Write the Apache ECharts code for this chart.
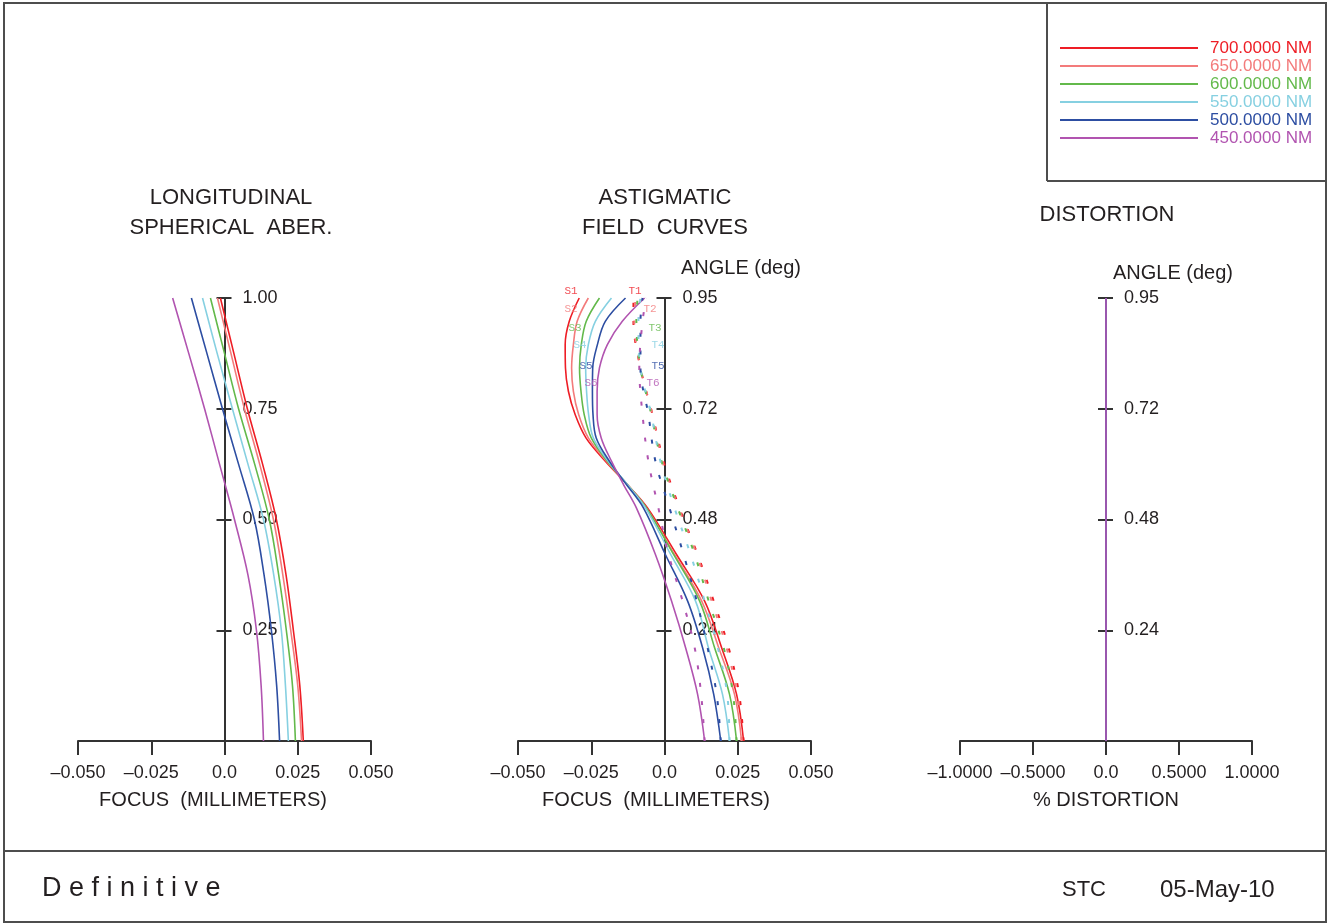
<!DOCTYPE html>
<html>
<head>
<meta charset="utf-8">
<title>Longitudinal / field curves / distortion</title>
<script src="https://cdn.jsdelivr.net/npm/echarts@6/dist/echarts.min.js"></script>
<style>
html, body { margin: 0; padding: 0; background: #fff; }
#main { width: 1328px; height: 924px; }
</style>
</head>
<body>
<div id="main"></div>
<script>
// wavelengths, legend order
var waveNames = ['700.0000 NM', '650.0000 NM', '600.0000 NM', '550.0000 NM', '500.0000 NM', '450.0000 NM'];
var waveColors = ['#ee1d25', '#f37b7b', '#63b94b', '#86d0e1', '#2d4ea2', '#b154b0'];

// longitudinal spherical aberration (focus mm) vs relative pupil
var pupil  = [0, 0.125, 0.25, 0.375, 0.5, 0.625, 0.75, 0.875, 1.0];
var lon700 = [0.0269, 0.0257, 0.0235, 0.0210, 0.0177, 0.0130, 0.0078, 0.0032, -0.0014];
var lon650 = [0.0263, 0.0250, 0.0226, 0.0199, 0.0167, 0.0120, 0.0068, 0.0022, -0.0024];
var lon600 = [0.0242, 0.0232, 0.0211, 0.0185, 0.0153, 0.0103, 0.0048, 0.0000, -0.0048];
var lon550 = [0.0218, 0.0208, 0.0194, 0.0168, 0.0133, 0.0080, 0.0027, -0.0025, -0.0075];
var lon500 = [0.0188, 0.0178, 0.0160, 0.0135, 0.0102, 0.0048, -0.0007, -0.0060, -0.0113];
var lon450 = [0.0133, 0.0125, 0.0109, 0.0080, 0.0034, -0.0017, -0.0068, -0.0122, -0.0177];

// astigmatic field curves (focus mm) vs field angle (deg)
// sagittal (solid)
var sagField = [0, 0.1, 0.2, 0.3, 0.4, 0.5, 0.55, 0.6, 0.65, 0.7, 0.75, 0.8, 0.85, 0.9, 0.95];
var sag700 = [0.0270, 0.0246, 0.0195, 0.0137, 0.0041, -0.0058, -0.0127, -0.0202, -0.0268, -0.0305, -0.0328, -0.0338, -0.0339, -0.0325, -0.0291];
var sag650 = [0.0263, 0.0239, 0.0185, 0.0127, 0.0034, -0.0062, -0.0127, -0.0198, -0.0260, -0.0293, -0.0311, -0.0317, -0.0311, -0.0298, -0.0260];
var sag600 = [0.0246, 0.0222, 0.0171, 0.0120, 0.0031, -0.0062, -0.0127, -0.0195, -0.0250, -0.0274, -0.0285, -0.0290, -0.0284, -0.0267, -0.0222];
var sag550 = [0.0222, 0.0198, 0.0150, 0.0106, 0.0021, -0.0065, -0.0127, -0.0192, -0.0243, -0.0259, -0.0266, -0.0269, -0.0260, -0.0236, -0.0181];
var sag500 = [0.0192, 0.0168, 0.0130, 0.0079, 0.0003, -0.0072, -0.0130, -0.0188, -0.0233, -0.0244, -0.0246, -0.0245, -0.0229, -0.0202, -0.0133];
var sag450 = [0.0137, 0.0113, 0.0072, 0.0024, -0.0031, -0.0096, -0.0140, -0.0181, -0.0216, -0.0230, -0.0230, -0.0222, -0.0195, -0.0144, -0.0068];
// tangential (dashed)
var tanField = [0, 0.1, 0.2, 0.3, 0.4, 0.5, 0.6, 0.7, 0.8, 0.9, 0.95];
var tan700 = [0.0270, 0.0255, 0.0219, 0.0168, 0.0113, 0.0051, -0.0003, -0.0041, -0.0082, -0.0106, -0.0106];
var tan650 = [0.0263, 0.0248, 0.0212, 0.0161, 0.0110, 0.0048, -0.0007, -0.0041, -0.0082, -0.0103, -0.0099];
var tan600 = [0.0246, 0.0234, 0.0202, 0.0151, 0.0103, 0.0045, -0.0010, -0.0045, -0.0082, -0.0096, -0.0092];
var tan550 = [0.0222, 0.0214, 0.0182, 0.0137, 0.0089, 0.0034, -0.0014, -0.0045, -0.0082, -0.0089, -0.0082];
var tan500 = [0.0192, 0.0178, 0.0147, 0.0110, 0.0065, 0.0017, -0.0031, -0.0055, -0.0082, -0.0082, -0.0075];
var tan450 = [0.0137, 0.0125, 0.0103, 0.0062, 0.0014, -0.0021, -0.0055, -0.0075, -0.0086, -0.0075, -0.0062];

// distortion (%) vs field angle, same for every wavelength
var distField = [0, 0.24, 0.48, 0.72, 0.95];
var distPct   = [0, 0, 0, 0, 0];

// tick labels
var focusTicks = ['\u20130.050', '\u20130.025', '0.0', '0.025', '0.050'];
var distTicks  = ['\u20131.0000', '\u20130.5000', '0.0', '0.5000', '1.0000'];
var pupilTicks = ['', '0.25', '0.50', '0.75', '1.00'];
var angleTicks = ['', '0.24', '0.48', '0.72', '0.95'];

var lonData = [lon700, lon650, lon600, lon550, lon500, lon450];
var sagData = [sag700, sag650, sag600, sag550, sag500, sag450];
var tanData = [tan700, tan650, tan600, tan550, tan500, tan450];

var FONT = '"Liberation Sans", Arial, sans-serif';
var INK = '#231f20';
var AXIS = '#333';

function pairs(xs, ys) {
  return xs.map(function (x, i) { return [x, ys[i]]; });
}

function curve(i, xs, ys, xIdx, yIdx, dashed) {
  return {
    name: waveNames[i],
    type: 'line',
    xAxisIndex: xIdx,
    yAxisIndex: yIdx,
    data: pairs(xs, ys),
    smooth: 0.35,
    symbol: 'none',
    silent: true,
    itemStyle: { color: waveColors[i] },
    lineStyle: { color: waveColors[i], width: dashed ? 2 : 1.6, type: dashed ? [4, 14] : 'solid' }
  };
}

function xAxisFor(grid, min, max, step, ticks, name, shift) {
  return {
    type: 'value', gridIndex: grid, min: min, max: max, interval: step,
    position: 'bottom',
    axisLine: { onZero: false, lineStyle: { color: AXIS, width: 2 } },
    axisTick: { length: 14, lineStyle: { color: AXIS, width: 2 } },
    splitLine: { show: false },
    axisLabel: {
      margin: 23, fontSize: 18, fontFamily: FONT, color: INK,
      formatter: function (v) { return ticks[Math.round((v - min) / step)]; }
    },
    name: name, nameLocation: 'middle', nameGap: 49,
    nameTextStyle: { fontSize: 20, fontFamily: FONT, color: INK, padding: [0, shift, 0, 0] }
  };
}

function yAxesFor(grid, max, step, ticks, half) {
  var base = {
    type: 'value', gridIndex: grid, min: 0, max: max, interval: step,
    splitLine: { show: false }
  };
  var a = Object.assign({}, base, {
    position: 'left', offset: -half,
    axisLine: { onZero: false, lineStyle: { color: AXIS, width: 2 } },
    axisTick: { length: 8, lineStyle: { color: AXIS, width: 2 } },
    axisLabel: { show: false }
  });
  var b = Object.assign({}, base, {
    position: 'right', offset: -half,
    axisLine: { onZero: false, lineStyle: { color: AXIS, width: 2 } },
    axisTick: { length: 7, lineStyle: { color: AXIS, width: 2 } },
    axisLabel: {
      margin: 18, fontSize: 18, fontFamily: FONT, color: INK, showMinLabel: false,
      formatter: function (v) { return ticks[Math.round(v / step)]; }
    }
  });
  return [a, b];
}

var series = [];
for (var i = 0; i < 6; i++) series.push(curve(i, lonData[i], pupil, 0, 1, false));
for (var i = 0; i < 6; i++) series.push(curve(i, sagData[i], sagField, 1, 3, false));
for (var i = 0; i < 6; i++) series.push(curve(i, tanData[i], tanField, 1, 3, true));
for (var i = 0; i < 6; i++) series.push(curve(i, distPct, distField, 2, 5, false));

function txt(x, y, s, size, opt) {
  opt = opt || {};
  return {
    type: 'text', x: x, y: y, silent: true, z: 10,
    style: {
      text: s, fontSize: size, fontFamily: opt.family || FONT, fill: opt.fill || INK,
      lineHeight: opt.lineHeight, align: opt.align || 'center', verticalAlign: 'middle',
      textAlign: opt.align || 'center', textVerticalAlign: 'middle', opacity: opt.opacity
    }
  };
}
function seg(x1, y1, x2, y2) {
  return { type: 'line', silent: true, shape: { x1: x1, y1: y1, x2: x2, y2: y2 },
    style: { stroke: '#4d4d4d', lineWidth: 2 } };
}

// S / T curve tags in the field-curve panel
var sTags = [[571, 291], [571, 309], [575, 328], [580, 345], [586, 366], [591, 383]];
var tTags = [[635, 291], [650, 309], [655, 328], [658, 345], [658, 366], [653, 383]];

var graphics = [
  { type: 'rect', silent: true, shape: { x: 4, y: 3, width: 1322, height: 919 },
    style: { fill: null, stroke: '#4d4d4d', lineWidth: 2 } },
  seg(4, 851, 1326, 851),
  seg(1047, 3, 1047, 181),
  seg(1047, 181, 1326, 181),
  txt(231, 213, 'LONGITUDINAL\nSPHERICAL  ABER.', 22, { lineHeight: 30 }),
  txt(665, 213, 'ASTIGMATIC\nFIELD  CURVES', 22, { lineHeight: 30 }),
  txt(1107, 215, 'DISTORTION', 22),
  txt(741, 268, 'ANGLE (deg)', 20),
  txt(1173, 273, 'ANGLE (deg)', 20),
  txt(42, 889, 'D e f i n i t i v e', 27, { align: 'left' }),
  txt(1062, 890, 'STC', 22, { align: 'left' }),
  txt(1160, 890, '05-May-10', 24, { align: 'left' })
];
for (var k = 0; k < 6; k++) {
  graphics.push(txt(sTags[k][0], sTags[k][1], 'S' + (k + 1), 11,
    { family: '"Liberation Mono", monospace', fill: waveColors[k], opacity: 0.8 }));
  graphics.push(txt(tTags[k][0], tTags[k][1], 'T' + (k + 1), 11,
    { family: '"Liberation Mono", monospace', fill: waveColors[k], opacity: 0.8 }));
}

var chart = echarts.init(document.getElementById('main'), null, { renderer: 'canvas' });
chart.setOption({
  animation: false,
  backgroundColor: '#fff',
  grid: [
    { left: 78, top: 298, width: 293, height: 443, outerBoundsMode: 'none' },
    { left: 518, top: 298, width: 293, height: 443, outerBoundsMode: 'none' },
    { left: 960, top: 298, width: 292, height: 443, outerBoundsMode: 'none' }
  ],
  legend: {
    orient: 'vertical', left: 1060, top: 39, padding: 0, itemGap: 0,
    itemWidth: 138, itemHeight: 2, icon: 'rect', selectedMode: false,
    data: waveNames.map(function (n, i) { return { name: n, textStyle: { color: waveColors[i] } }; }),
    textStyle: { fontSize: 17, fontFamily: FONT, lineHeight: 18, padding: [0, 0, 0, 7] }
  },
  xAxis: [
    xAxisFor(0, -0.05, 0.05, 0.025, focusTicks, 'FOCUS  (MILLIMETERS)', 23),
    xAxisFor(1, -0.05, 0.05, 0.025, focusTicks, 'FOCUS  (MILLIMETERS)', 17),
    xAxisFor(2, -1, 1, 0.5, distTicks, '% DISTORTION', 0)
  ],
  yAxis: [].concat(
    yAxesFor(0, 1, 0.25, pupilTicks, 146.5),
    yAxesFor(1, 0.95, 0.2375, angleTicks, 146.5),
    yAxesFor(2, 0.95, 0.2375, angleTicks, 146)
  ),
  graphic: graphics,
  series: series
});
</script>
</body>
</html>
